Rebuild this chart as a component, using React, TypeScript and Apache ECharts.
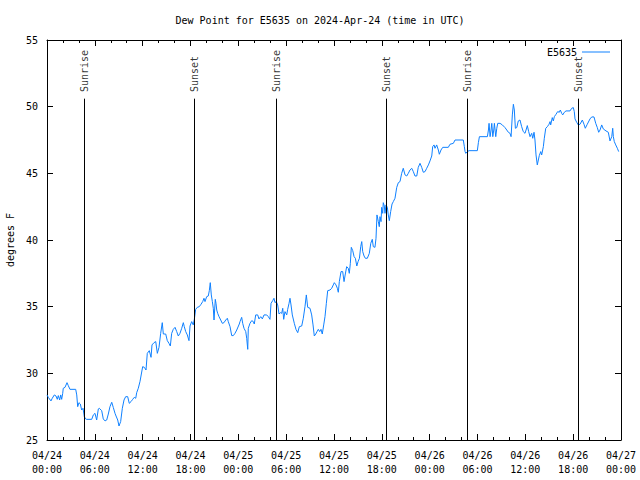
import React, { useEffect, useRef } from "react";
import * as echarts from "echarts";

const chartTitle = "Dew Point for E5635 on 2024-Apr-24 (time in UTC)";
const seriesName = "E5635";
const yAxisName = "degrees F";
const yMin = 25;
const yMax = 55;
const yStep = 5;
// x values are hours since 2024-04-24 00:00 UTC
const xMin = 0;
const xMax = 72;
const xStep = 6;
const sunriseHours = [4.68, 28.74, 52.72];
const sunsetHours = [18.48, 42.56, 66.65];
const markerTop = 50.6;
const markerLabelValue = 51.1;

const readings: [number, number][] = [
  [0.0, 28.38], [0.16, 28.2], [0.5, 27.93], [0.66, 28.13], [0.92, 28.38], [1.13, 28.3], [1.29, 28.05], [1.42, 28.33], [1.59, 28.0], [1.72, 28.38], [1.84, 28.05], [1.97, 28.5], [2.04, 28.88], [2.26, 28.95], [2.51, 29.3], [2.67, 29.08], [2.88, 28.8], [3.6, 28.8], [3.73, 28.38], [3.85, 27.5], [4.01, 27.8], [4.18, 27.7], [4.35, 27.25], [4.52, 27.38], [4.68, 26.75], [4.85, 26.58], [4.98, 26.55], [5.61, 26.55], [5.81, 26.88], [6.02, 27.0], [6.23, 26.5], [6.44, 27.33], [6.56, 27.38], [6.86, 27.2], [7.06, 26.58], [7.28, 26.43], [7.49, 26.5], [7.69, 26.95], [7.9, 27.5], [8.12, 27.83], [8.32, 27.43], [8.53, 27.0], [8.66, 26.8], [8.87, 26.5], [9.03, 26.05], [9.24, 26.38], [9.45, 27.38], [9.66, 28.0], [9.87, 28.25], [10.12, 28.25], [10.32, 27.75], [10.54, 27.88], [10.75, 28.05], [10.95, 28.2], [11.13, 28.13], [11.25, 28.55], [11.45, 28.88],
  [11.67, 29.4], [11.79, 29.8], [12.0, 30.5], [12.21, 30.45], [12.42, 30.25], [12.58, 31.5], [12.83, 31.7], [13.05, 31.2], [13.17, 32.13], [13.42, 32.3], [13.64, 32.38], [13.84, 31.5], [14.05, 31.95], [14.26, 33.0], [14.46, 33.8], [14.59, 32.95], [14.89, 32.95], [15.09, 32.45], [15.3, 32.25], [15.47, 32.05], [15.64, 33.0], [15.84, 33.3], [16.06, 33.45], [16.27, 33.13], [16.47, 32.8], [16.68, 33.0], [16.9, 33.38], [17.1, 33.8], [17.22, 33.5], [17.4, 33.13], [17.6, 32.88], [17.81, 32.45], [17.94, 33.55], [18.15, 33.88], [18.35, 33.63], [18.48, 34.05], [18.65, 34.8], [18.85, 34.95], [19.1, 35.0], [19.32, 35.18], [19.53, 35.38], [19.69, 35.63], [19.82, 35.38], [20.03, 35.75], [20.23, 35.8], [20.36, 36.2], [20.48, 36.8], [20.61, 35.88], [20.74, 35.38], [20.86, 34.88], [20.95, 34.0], [21.11, 35.55], [21.2, 35.25], [21.29, 34.75], [21.41, 34.5], [21.58, 34.25], [21.79, 34.0], [21.99, 33.75], [22.2, 33.8], [22.42, 34.0], [22.62, 34.13], [22.74, 33.88], [22.96, 33.5], [23.17, 32.83], [23.37, 32.83], [23.58, 33.0], [23.8, 33.25], [24.12, 33.7],
  [24.21, 33.88], [24.42, 34.2], [24.55, 33.75], [24.71, 33.38], [24.93, 33.13], [25.05, 32.63], [25.18, 31.8], [25.25, 33.38], [25.46, 33.75], [25.68, 33.95], [25.88, 33.88], [26.0, 33.7], [26.18, 34.38], [26.43, 34.38], [26.59, 34.08], [26.81, 34.25], [27.01, 34.08], [27.22, 34.38], [27.56, 34.38], [27.76, 34.25], [27.97, 34.05], [28.1, 35.25], [28.31, 35.45], [28.47, 35.63], [28.6, 35.3], [28.76, 35.38], [28.94, 35.13], [29.1, 34.45], [29.27, 34.55], [29.44, 34.5], [29.57, 34.88], [29.69, 34.05], [29.85, 34.63], [30.07, 34.38], [30.19, 34.8], [30.36, 35.25], [30.48, 35.63], [30.61, 35.13], [30.77, 34.38], [31.02, 33.75], [31.23, 33.3], [31.45, 33.05], [31.65, 33.5], [31.95, 33.55], [32.15, 34.13], [32.36, 35.0], [32.53, 35.88], [32.7, 34.95], [32.99, 34.88], [33.2, 34.38], [33.37, 33.63], [33.53, 32.8], [33.71, 32.95], [33.87, 33.13], [34.03, 33.3], [34.21, 33.13], [34.37, 33.3], [34.53, 32.95], [34.71, 33.63], [34.87, 34.25], [35.04, 35.25], [35.21, 36.2], [35.5, 36.25], [35.71, 36.38], [35.91, 36.63], [36.04, 36.8],
  [36.25, 36.63], [36.42, 36.38], [36.54, 36.08], [36.67, 36.88], [36.88, 37.63], [37.09, 37.63], [37.26, 36.88], [37.42, 37.45], [37.59, 38.0], [37.79, 37.88], [37.92, 37.5], [38.05, 38.25], [38.17, 39.45], [38.35, 39.2], [38.52, 38.75], [38.68, 38.63], [38.86, 38.05], [39.02, 38.38], [39.19, 38.63], [39.35, 39.5], [39.48, 39.88], [39.6, 39.13], [39.77, 38.8], [39.93, 38.63], [40.18, 38.63], [40.43, 39.0], [40.61, 39.75], [40.8, 40.05], [40.93, 39.5], [41.14, 39.45], [41.27, 40.13], [41.39, 41.88], [41.56, 41.38], [41.68, 41.0], [41.77, 41.75], [41.9, 41.38], [41.98, 42.45], [42.11, 42.0], [42.18, 42.8], [42.31, 42.55], [42.4, 42.0], [42.52, 42.63], [42.69, 42.45], [42.81, 41.88], [42.94, 41.45], [43.11, 42.13], [43.28, 42.7], [43.44, 42.88], [43.65, 43.13], [43.87, 43.95], [44.07, 44.3], [44.28, 44.38], [44.49, 45.0], [44.69, 45.38], [44.91, 44.88], [45.12, 44.8], [45.32, 45.0], [45.53, 45.25], [45.75, 45.38], [45.95, 45.13], [46.16, 44.8], [46.38, 44.8], [46.57, 45.45], [46.79, 45.75], [47.0, 45.45], [47.2, 45.08], [47.42, 45.13], [47.63, 45.38], [47.84, 45.63],
  [48.04, 45.93], [48.26, 46.3], [48.38, 47.0], [48.55, 47.13], [48.67, 46.88], [48.88, 47.13], [49.09, 46.75], [49.21, 46.43], [49.42, 46.75], [49.64, 46.95], [50.34, 46.95], [50.55, 47.18], [50.97, 47.25], [51.18, 47.5], [52.22, 47.5], [52.35, 47.0], [52.44, 46.63], [52.53, 46.5], [52.73, 46.63], [52.94, 46.7], [53.98, 46.7], [54.11, 47.3], [54.24, 47.75], [55.24, 47.75], [55.37, 48.25], [55.45, 48.75], [55.58, 47.75], [55.7, 48.25], [55.79, 48.75], [55.92, 47.75], [56.04, 48.25], [56.12, 48.75], [56.29, 47.75], [56.42, 48.38], [56.54, 48.75], [56.83, 48.75], [57.12, 48.63], [57.45, 48.43], [57.67, 48.25], [57.87, 48.08], [58.08, 48.0], [58.21, 47.75], [58.37, 49.38], [58.5, 50.18], [58.62, 49.75], [58.75, 48.38], [58.92, 48.43], [59.12, 48.93], [59.33, 49.0], [59.54, 48.5], [59.74, 48.13],
  [59.96, 48.0], [60.09, 48.25], [60.25, 48.58], [60.42, 48.13], [60.59, 47.75], [60.8, 48.0], [60.93, 47.63], [61.09, 48.08], [61.21, 47.5], [61.34, 46.38], [61.5, 45.63], [61.63, 46.0], [61.75, 46.33], [61.93, 46.63], [62.05, 46.38], [62.26, 47.0], [62.38, 47.63], [62.56, 48.38], [62.76, 48.5], [62.97, 48.68], [63.1, 48.88], [63.18, 48.63], [63.38, 49.18], [63.51, 48.93], [63.64, 49.25], [63.85, 49.43], [64.06, 49.63], [64.26, 49.58], [64.39, 49.75], [64.56, 49.5], [64.69, 49.38], [64.89, 49.58], [65.1, 49.68], [65.6, 49.68], [65.82, 49.88], [66.02, 49.93], [66.14, 49.63], [66.23, 49.08], [66.44, 48.83], [66.64, 48.63], [66.86, 48.68], [67.15, 49.0], [67.36, 48.68], [67.52, 48.38], [67.77, 48.68], [68.11, 49.08], [68.33, 49.23], [68.61, 49.23], [68.83, 48.75], [69.03, 48.43], [69.2, 48.08], [69.37, 48.25], [69.58, 48.63], [69.78, 48.33], [70.12, 48.18], [70.41, 48.08], [70.62, 47.43], [70.84, 47.75], [70.96, 48.38], [71.04, 47.75], [71.16, 47.38], [71.34, 47.13], [71.54, 46.88], [71.71, 46.63],
];

const FONT = "'DejaVu Sans Mono', monospace";
const LINE_COLOR = "#0f80ff";

function hourLabel(h: number): string {
  const day = 24 + Math.floor(h / 24);
  const hh = Math.round(h % 24);
  return `04/${day}\n${String(hh).padStart(2, "0")}:00`;
}

export default function App() {
  const ref = useRef<HTMLDivElement>(null);
  useEffect(() => {
    if (!ref.current) return;
    const chart = echarts.init(ref.current, null, { renderer: "svg" });
    const textStyle = { fontFamily: FONT, fontSize: 10, color: "#000" };
    const axisLine = { show: true, onZero: false, lineStyle: { color: "#000", width: 1 } };
    const tick = { show: true, inside: true, length: 6, lineStyle: { color: "#000", width: 1 } };
    const markers = [
      ...sunriseHours.map((t) => ({ t, name: "Sunrise" })),
      ...sunsetHours.map((t) => ({ t, name: "Sunset" })),
    ];
    chart.setOption({
      animation: false,
      backgroundColor: "#fff",
      title: {
        text: chartTitle,
        left: "center",
        top: 10,
        textStyle: { ...textStyle, fontWeight: "normal" },
      },
      legend: {
        right: 25,
        top: 42,
        align: "right",
        icon: "rect",
        itemWidth: 28,
        itemHeight: 1,
        textStyle,
        data: [seriesName],
      },
      grid: {
        left: 47,
        right: 19,
        top: 40,
        bottom: 40,
        containLabel: false,
        outerBoundsMode: "none",
      },
      xAxis: [
        {
          type: "value",
          min: xMin,
          max: xMax,
          interval: xStep,
          position: "bottom",
          axisLine,
          axisTick: tick,
          minorTick: { show: true, splitNumber: 3, length: 3, lineStyle: { color: "#000", width: 1 } },
          splitLine: { show: false },
          axisLabel: { ...textStyle, lineHeight: 14, margin: 8, formatter: hourLabel },
        },
        {
          type: "value",
          min: xMin,
          max: xMax,
          interval: xStep,
          position: "top",
          axisLine,
          axisTick: tick,
          minorTick: { show: true, splitNumber: 3, length: 3, lineStyle: { color: "#000", width: 1 } },
          splitLine: { show: false },
          axisLabel: { show: false },
        },
      ],
      yAxis: [
        {
          type: "value",
          min: yMin,
          max: yMax,
          interval: yStep,
          position: "left",
          name: yAxisName,
          nameLocation: "middle",
          nameRotate: 90,
          nameGap: 32,
          nameTextStyle: textStyle,
          axisLine,
          axisTick: tick,
          splitLine: { show: false },
          axisLabel: { ...textStyle, margin: 9 },
        },
        {
          type: "value",
          min: yMin,
          max: yMax,
          interval: yStep,
          position: "right",
          axisLine,
          axisTick: tick,
          splitLine: { show: false },
          axisLabel: { show: false },
        },
      ],
      series: [
        {
          name: seriesName,
          type: "line",
          data: readings,
          symbol: "none",
          color: LINE_COLOR,
          lineStyle: { width: 1, color: LINE_COLOR },
          markLine: {
            silent: true,
            symbol: ["none", "none"],
            label: { show: false },
            lineStyle: { color: "#000", width: 1, type: "solid" },
            data: markers.map((m) => [
              { coord: [m.t, yMin] },
              { coord: [m.t, markerTop] },
            ]),
          },
        },
        {
          name: "markers",
          type: "scatter",
          silent: true,
          symbolSize: 1,
          itemStyle: { color: "rgba(0,0,0,0)" },
          data: markers.map((m) => ({ name: m.name, value: [m.t, markerLabelValue] })),
          label: {
            show: true,
            formatter: "{b}",
            position: "inside",
            rotate: 90,
            align: "left",
            verticalAlign: "middle",
            ...textStyle,
          },
        },
      ],
    });
    return () => chart.dispose();
  }, []);
  return (
    <div
      ref={ref}
      style={{ position: "fixed", left: 0, top: 0, width: 640, height: 480 }}
    />
  );
}
